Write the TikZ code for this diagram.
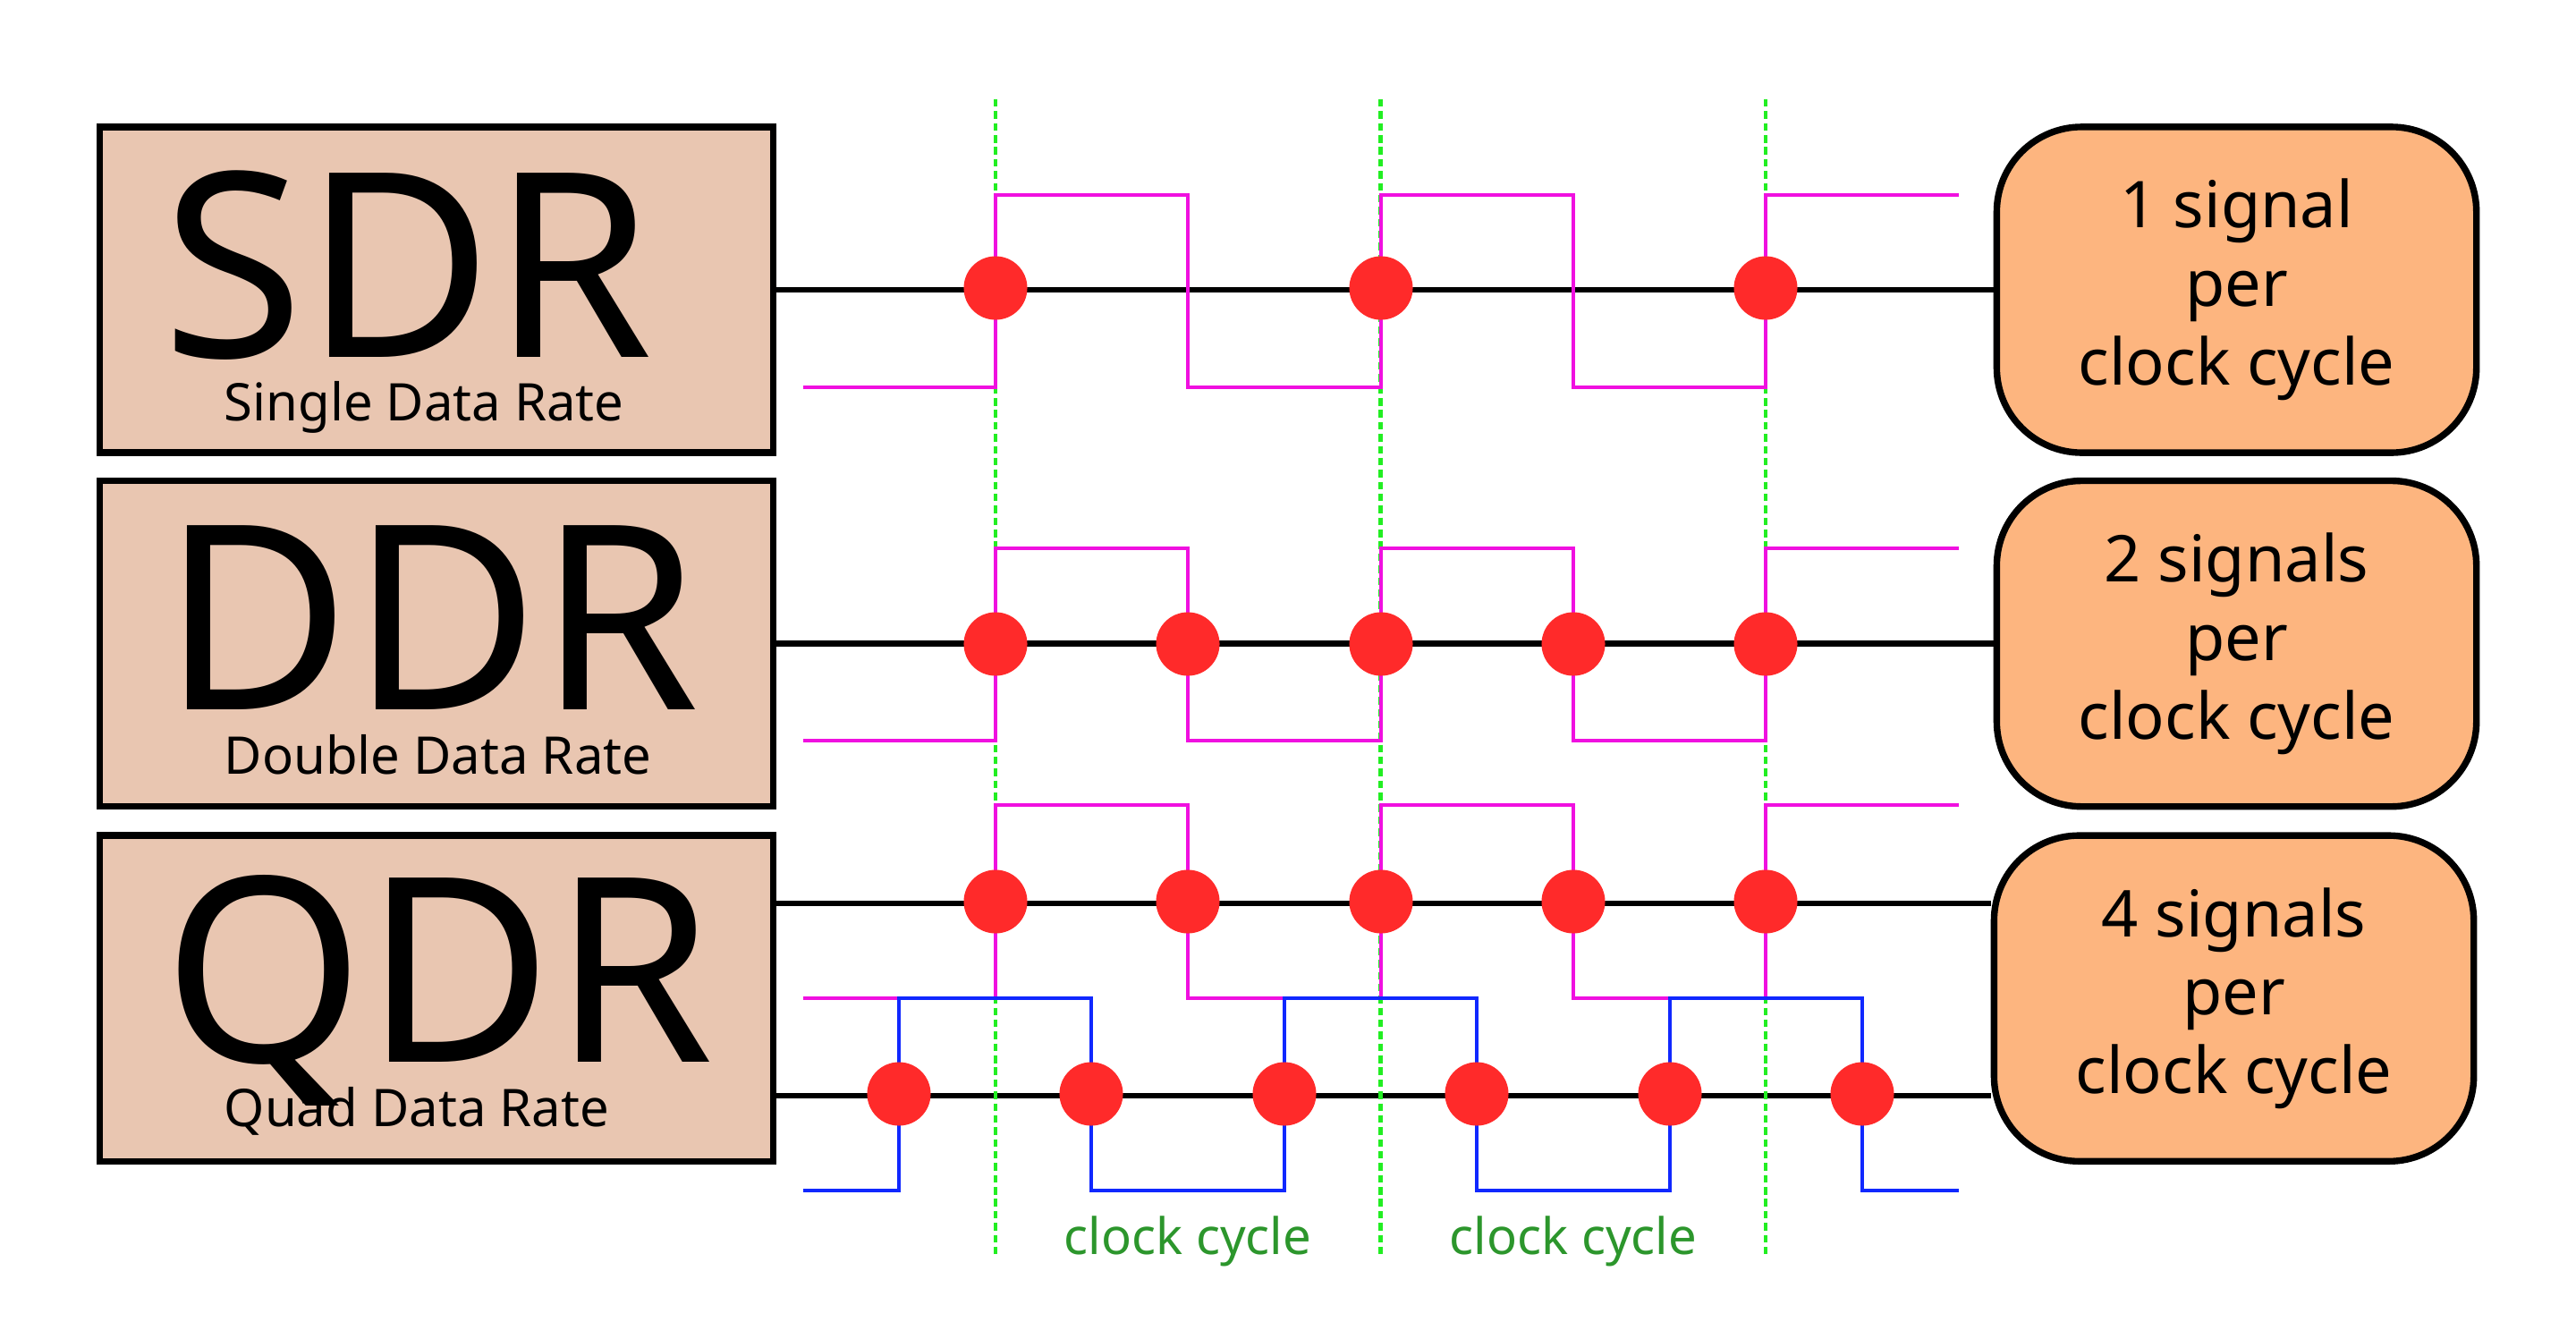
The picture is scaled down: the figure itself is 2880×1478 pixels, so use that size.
\documentclass[tikz,border=0pt]{standalone}
\usepackage{fontspec}
\setmainfont{Noto Sans}
\usetikzlibrary{positioning}
\definecolor{rowfill}{RGB}{233,198,177}
\definecolor{sigfill}{RGB}{253,181,127}
\definecolor{sampred}{RGB}{255,42,42}
\definecolor{wavepink}{RGB}{240,16,224}
\definecolor{waveblue}{RGB}{16,40,255}
\definecolor{cyclegreen}{RGB}{34,238,34}
\definecolor{textgreen}{RGB}{44,150,44}

\begin{document}
\begin{tikzpicture}[x=0.01cm, y=-0.01cm,
  ratebox/.style = {draw, line width=2.1pt, fill=rowfill, minimum width=7.52cm, minimum height=3.64cm, inner sep=0pt},
  sigbox/.style  = {draw, line width=2.1pt, fill=sigfill, rounded corners=0.95cm, minimum width=5.36cm, minimum height=3.64cm, align=center, font=\fontsize{20.5}{25}\selectfont},
  ratename/.style = {anchor=base west, inner sep=0pt, text depth=0pt, font=\fontsize{82}{90}\selectfont},
  ratesub/.style  = {anchor=base west, inner sep=0pt, font=\fontsize{16.5}{20}\selectfont},
  cycletext/.style = {anchor=base, inner sep=0pt, text=textgreen, font=\fontsize{16}{20}\selectfont},
  wire/.style = {line width=1.8pt},
  clkline/.style = {cyclegreen, line width=1.4pt, dash pattern=on 2.4pt off 1.4pt},
  pinkwave/.style = {wavepink, line width=1pt},
  bluewave/.style = {waveblue, line width=1.1pt},
  sample/.style = {circle, fill=sampred, minimum size=0.71cm, inner sep=0pt}]
\useasboundingbox (0,0) rectangle (2880,1478);

% rate boxes on the left, stacked
\node[ratebox]                     (sdr) at (488,324) {};
\node[ratebox, below=0.24cm of sdr] (ddr) {};
\node[ratebox, below=0.25cm of ddr] (qdr) {};
\node[ratename] (sdr name) at (181,399)  {SDR};
\node[ratesub]  (sdr sub)  at (250,470)  {Single Data Rate};
\node[ratename] (ddr name) at (181,793)  {DDR};
\node[ratesub]  (ddr sub)  at (250,865)  {Double Data Rate};
\node[ratename] (qdr name) at (182,1187) {QDR};
\node[ratesub]  (qdr sub)  at (250,1259) {Quad Data Rate};

% signal counts on the right
\node[sigbox, right=13.6cm of sdr]  (sig1) {1 signal\\per\\clock cycle};
\node[sigbox, right=13.6cm of ddr]  (sig2) {2 signals\\per\\clock cycle};
\node[sigbox, right=13.57cm of qdr] (sig3) {4 signals\\per\\clock cycle};

% data lines
\path (qdr.east) ++(0,-106) coordinate (qa);
\path (qdr.east) ++(0,109)  coordinate (qb);
\draw[wire] (sdr) -- (sig1);
\draw[wire] (ddr) -- (sig2);
\draw[wire] (qa) -- (qa -| sig3.west);
\draw[wire] (qb) -- (qb -| sig3.west);

% clock cycle marks
\foreach \x [count=\i] in {1113,1543.5,1974} {
  \coordinate (g\i) at (\x,111);
  \draw[clkline] (g\i) -- ++(0,1292);
}
\node[cycletext] (cycle 1) at (1328,1402) {clock cycle};
\node[cycletext] (cycle 2) at (1759,1402) {clock cycle};

% clocks
\foreach \hi/\lo in {218/433, 613/828, 900/1116}
  \draw[pinkwave] (898,\lo) -| (1113,\hi) -| (1328,\lo) -| (1544,\hi) -| (1759,\lo) -| (1974,\hi) -- (2190,\hi);
\draw[bluewave] (898,1331) -| (1005,1116) -| (1220,1331) -| (1436,1116) -| (1651,1331) -| (1867,1116) -| (2082,1331) -- (2190,1331);

% sampling points
\foreach \x [count=\i] in {1113,1544,1974}
  \node[sample] (sdr s\i) at (\x,322) {};
\foreach \x [count=\i] in {1113,1328,1544,1759,1974}
  \node[sample] (ddr s\i) at (\x,720) {};
\foreach \x [count=\i] in {1113,1328,1544,1759,1974}
  \node[sample] (qdr a\i) at (\x,1008) {};
\foreach \x [count=\i] in {1005,1220,1436,1651,1867,2082}
  \node[sample] (qdr b\i) at (\x,1223) {};
\end{tikzpicture}
\end{document}
